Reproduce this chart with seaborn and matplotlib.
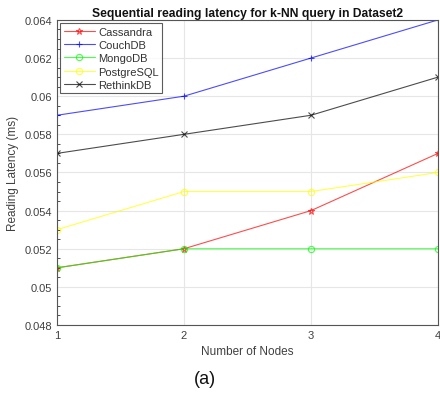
import matplotlib
matplotlib.use("Agg")
import matplotlib.pyplot as plt
import seaborn as sns
import pandas as pd
from matplotlib.ticker import MultipleLocator, FuncFormatter

nodes = [1, 2, 3, 4]
cassandra = [0.051, 0.052, 0.054, 0.057]
couchdb = [0.059, 0.060, 0.062, 0.064]
mongodb = [0.051, 0.052, 0.052, 0.052]
postgresql = [0.053, 0.055, 0.055, 0.056]
rethinkdb = [0.057, 0.058, 0.059, 0.061]
yticks = [0.048, 0.050, 0.052, 0.054, 0.056, 0.058, 0.060, 0.062, 0.064]

series = {
    "Cassandra": cassandra,
    "CouchDB": couchdb,
    "MongoDB": mongodb,
    "PostgreSQL": postgresql,
    "RethinkDB": rethinkdb,
}
colors = {"Cassandra": "#ff0000", "CouchDB": "#0000ff", "MongoDB": "#00ff00",
          "PostgreSQL": "#ffff00", "RethinkDB": "#000000"}
markers = {"Cassandra": "*", "CouchDB": "+", "MongoDB": "o", "PostgreSQL": "o", "RethinkDB": "x"}

rows = []
for name, vals in series.items():
    for n, v in zip(nodes, vals):
        rows.append({"Nodes": n, "Latency": v, "DB": name})
df = pd.DataFrame(rows)

sns.set_style("white")
plt.rcParams['font.family'] = ['Liberation Sans', 'DejaVu Sans']

fig = plt.figure(figsize=(4.4, 4.02), dpi=100)
ax = fig.add_axes([0.1295, 0.189, 0.866, 0.759])

for name in series:
    sub = df[df.DB == name]
    sns.lineplot(data=sub, x="Nodes", y="Latency", ax=ax, color=colors[name],
                 marker=markers[name], markersize=4.5, linewidth=0.8, alpha=0.7,
                 markerfacecolor="none", markeredgecolor=colors[name], markeredgewidth=0.8,
                 label=name)

ax.set_xlim(1, 4)
ax.set_ylim(0.048, 0.064)
ax.set_xticks(nodes)
ax.set_xticklabels([str(n) for n in nodes])
ax.set_yticks(yticks)
ax.yaxis.set_major_formatter(FuncFormatter(lambda v, p: ("%.3f" % v).rstrip("0")))
ax.yaxis.set_minor_locator(MultipleLocator(0.0005))
ax.grid(True, which="major", color="#e6e6e6", linewidth=0.8)
ax.tick_params(direction="in", length=3, colors="#333333", labelsize=8, labelcolor="#404040")
ax.tick_params(which="minor", direction="in", length=2, left=True, colors="#333333")
ax.tick_params(axis="both", which="both", right=False, top=False)
for s in ax.spines.values():
    s.set_color("#555555")
    s.set_linewidth(0.8)

ax.set_xlabel("Number of Nodes", fontsize=8.5, color="#404040")
ax.set_ylabel("Reading Latency (ms)", fontsize=8.5, color="#404040")
ax.set_title("Sequential reading latency for k-NN query in Dataset2", fontsize=8.7,
             fontweight="bold", color="#111111", pad=3)

leg = ax.legend(loc="upper left", fontsize=8, frameon=True, fancybox=False,
                borderpad=0.3, labelspacing=0.3, handlelength=2.8, handletextpad=0.3,
                borderaxespad=0.3)
leg.get_frame().set_edgecolor("#333333")
leg.get_frame().set_linewidth(0.8)
for t in leg.get_texts():
    t.set_color("#333333")

fig.text(0.466, 0.055, "(a)", fontsize=13, ha="center", va="center", color="#111111")

fig.savefig("out.png", dpi=100)
